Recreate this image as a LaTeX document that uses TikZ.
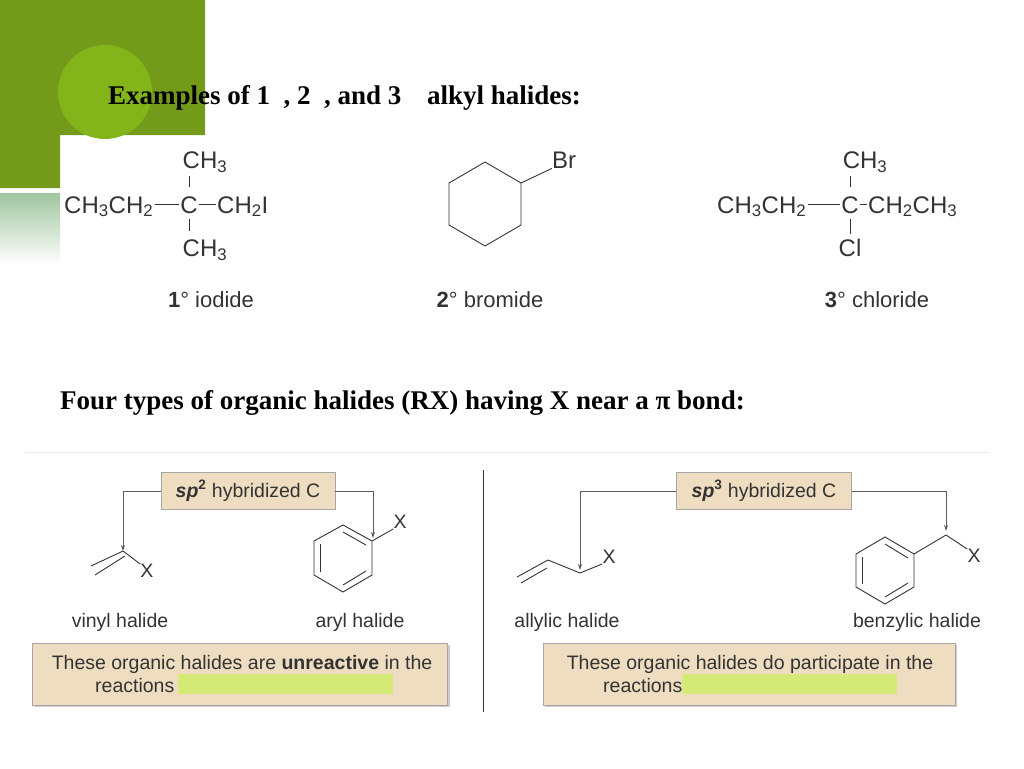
\documentclass[tikz,border=0pt]{standalone}
\usepackage{fontspec}
\setmainfont{Liberation Serif}
\newfontfamily\chemf{Liberation Sans}
\usetikzlibrary{arrows.meta,shadows,calc}
\definecolor{dgreen}{HTML}{749A1A}
\definecolor{lgreen}{HTML}{83B51B}
\definecolor{tan}{HTML}{EEDDC0}
\definecolor{hl}{HTML}{D6EA78}
\definecolor{ink}{HTML}{333333}
\newcommand{\sbs}[1]{\textsubscript{#1}}
\tikzset{
 chem/.style={font=\chemf\fontsize{24}{26}\selectfont, text=ink, inner sep=0pt},
 lab/.style={font=\chemf\fontsize{22}{24}\selectfont, text=ink, inner sep=0pt},
 small/.style={font=\chemf\fontsize{19.5}{22}\selectfont, text=ink, inner sep=0pt},
 tbox/.style={draw=gray!70, fill=tan, font=\chemf\fontsize{19.5}{22}\selectfont, text=ink},
 ttl/.style={anchor=base west, font=\bfseries\fontsize{27}{30}\selectfont, inner sep=0},
 bond/.style={draw=ink, line width=0.9pt},
 conn/.style={draw=ink!80, line width=0.8pt},
 arr/.style={conn, -{Stealth[length=6pt,width=4pt]}},
}
\begin{document}
\begin{tikzpicture}[x=1pt,y=-1pt]
\useasboundingbox (0,0) rectangle (1024,768);
% decoration
\fill[dgreen] (0,0) -- (205,0) -- (205,135) -- (60,135) -- (60,188) -- (0,188) -- cycle;
\fill[lgreen] (105,92) circle (47);
\shade[top color=gray!75!green!60, bottom color=white] (0,193) rectangle (60,265);
% titles
\node[ttl] (t1) at (108,104) {Examples of 1\hspace{0.5em}, 2\hspace{0.5em}, and 3\hspace{0.7em} alkyl halides:};
\node[ttl] (t2) at (60,409) {Four types of organic halides (RX) having X near a π bond:};
% structure 1
\node[chem, anchor=base west] (a1) at (64,213) {CH\sbs{3}CH\sbs{2}};
\node[chem, anchor=base] (c1) at (189,213) {C};
\node[chem, anchor=base west] (a2) at (217,213) {CH\sbs{2}I};
\node[chem] (m1) at (205,162) {CH\sbs{3}};
\node[chem] (m2) at (205,250) {CH\sbs{3}};
\draw[bond] ($(a1.east |- c1.center)+(2,0)$) -- ($(c1.west)+(-1,0)$);
\draw[bond] ($(c1.east)+(1,0)$) -- ($(a2.west |- c1.center)+(-1,0)$);
\draw[bond] (189,176) -- (189,187);
\draw[bond] (189,219) -- (189,231);
\node[lab] (l1) at (211,300) {\textbf{1}° iodide};
% cyclohexane
\draw[bond] (485,162) -- (521,183) -- (521,225) -- (485,246) -- (449,225) -- (449,183) -- cycle;
\node[chem] (br) at (564,160) {Br};
\draw[bond] (521,183) -- (br.south west);
\node[lab] (l2) at (490,300) {\textbf{2}° bromide};
% structure 3
\node[chem, anchor=base west] (b1) at (717,213) {CH\sbs{3}CH\sbs{2}};
\node[chem, anchor=base] (c3) at (850,213) {C};
\node[chem, anchor=base west] (b2) at (868,213) {CH\sbs{2}CH\sbs{3}};
\node[chem] (n1) at (865,162) {CH\sbs{3}};
\node[chem] (n2) at (850,248) {Cl};
\draw[bond] ($(b1.east |- c3.center)+(2,0)$) -- ($(c3.west)+(-1,0)$);
\draw[bond] ($(c3.east)+(1,0)$) -- ($(b2.west |- c3.center)+(-1,0)$);
\draw[bond] (850,176) -- (850,187);
\draw[bond] (850,219) -- (850,234);
\node[lab] (l3) at (877,300) {\textbf{3}° chloride};
% bottom panel
\draw[gray!15, line width=1pt] (25,452) -- (990,452);
\draw[ink, line width=0.9pt] (483,470) -- (483,712);
% left side
\node[tbox, minimum width=174, minimum height=37] (sp2) at (248,491) {\textbf{\textit{sp}}\textsuperscript{\textbf{2}} hybridized C};
\coordinate (vc) at (123,551);
\coordinate (ac) at (373,538);
\draw[arr] (sp2.west) -| (vc);
\draw[arr] (sp2.east) -| (ac);
% vinyl
\node[small] (vx) at (147,571) {X};
\draw[bond] (vc) -- (vx.north west);
\draw[bond] (vc) -- (91,566);
\draw[bond] ($(vc)+(2,5)$) -- (95,575);
% aryl
\draw[bond] (343,525) -- (372,541) -- (372,575) -- (343,592) -- (314,575) -- (314,541) -- cycle;
\draw[bond] (343,532) -- (366,545);
\draw[bond] (320,544) -- (320,572);
\draw[bond] (343,585) -- (366,571);
\node[small] (ax) at (400,522) {X};
\draw[bond] (372,541) -- (ax.south west);
\node[small] (vl) at (120,622) {vinyl halide};
\node[small] (al) at (360,622) {aryl halide};
\node[tbox, drop shadow={opacity=0.4}, minimum width=415, minimum height=62] (bx1) at (240,674) {};
\node[small, anchor=base] (bx1a) at (242,669) {These organic halides are \textbf{unreactive} in the};
\node[small, anchor=base west] (bx1b) at (95,692) {reactions};
\fill[hl] (178,674) rectangle (393,694);
% right side
\node[tbox, minimum width=175, minimum height=37] (sp3) at (764,491) {\textbf{\textit{sp}}\textsuperscript{\textbf{3}} hybridized C};
\coordinate (lc) at (580,570);
\coordinate (bc) at (946,531);
\draw[arr] (sp3.west) -| (lc);
\draw[arr] (sp3.east) -| (bc);
% allyl
\draw[bond] (517,577) -- (548,560) -- (580,573);
\draw[bond] (521,583) -- (547,568);
\node[small] (lx) at (609,557) {X};
\draw[bond] (580,573) -- (lx.south west);
% benzyl
\draw[bond] (885,537) -- (914,554) -- (914,587) -- (885,604) -- (856,587) -- (856,554) -- cycle;
\draw[bond] (885,544) -- (908,558);
\draw[bond] (862,557) -- (862,584);
\draw[bond] (885,597) -- (908,583);
\draw[bond] (914,554) -- (946,535);
\node[small] (bx) at (974,556) {X};
\draw[bond] (946,535) -- (bx.north west);
\node[small] (ll) at (567,622) {allylic halide};
\node[small] (bl) at (917,622) {benzylic halide};
\node[tbox, drop shadow={opacity=0.4}, minimum width=412, minimum height=62] (bx2) at (749,674) {};
\node[small, anchor=base] (bx2a) at (750,669) {These organic halides do participate in the};
\node[small, anchor=base west] (bx2b) at (603,692) {reactions};
\fill[hl] (682,674) rectangle (897,694);
\end{tikzpicture}
\end{document}
